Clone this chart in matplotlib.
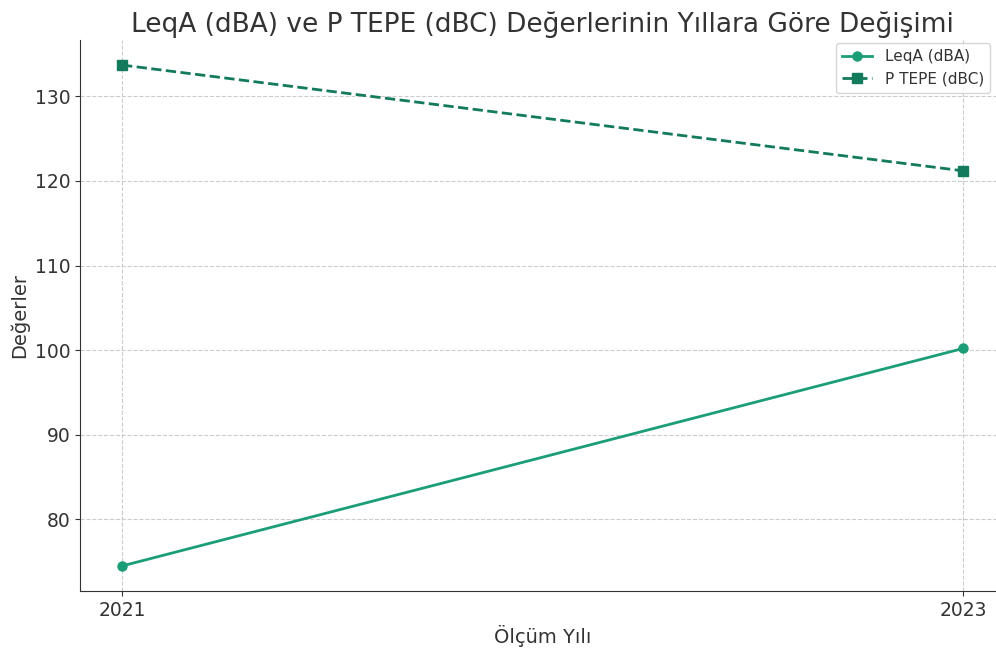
import matplotlib
matplotlib.use("Agg")
import matplotlib.pyplot as plt

years = [2021, 2023]
leqa = [74.5, 100.2]
p_tepe = [133.7, 121.2]

fig = plt.figure(figsize=(9.96, 6.48), dpi=100)
ax = fig.add_axes([80/996, 57/648, 925/996, 551/648])

ax.plot(years, leqa, color='#1b9e77', marker='o', linestyle='-', linewidth=2, markersize=6.5, label='LeqA (dBA)')
ax.plot(years, p_tepe, color='#137a5c', marker='s', linestyle='--', linewidth=2, markersize=6.5, label='P TEPE (dBC)')

ax.set_xticks(years)
ax.set_xticklabels([str(y) for y in years])
ax.tick_params(labelsize=13.5, colors='#333333')
ax.set_xlabel('Ölçüm Yılı', fontsize=14, color='#333333')
ax.set_ylabel('Değerler', fontsize=14, color='#333333')
ax.set_title('LeqA (dBA) ve P TEPE (dBC) Değerlerinin Yıllara Göre Değişimi', fontsize=19, color='#333333', pad=6)
ax.grid(True, linestyle='--', color='#cccccc', linewidth=0.8)
ax.spines['top'].set_visible(False)
ax.spines['right'].set_visible(False)
ax.spines['left'].set_color('#333333')
ax.spines['bottom'].set_color('#333333')
leg = ax.legend(loc='upper right', bbox_to_anchor=((993 - 80) / 925, 1.0), fontsize=11, borderaxespad=0.2)
for t in leg.get_texts():
    t.set_color('#333333')

fig.savefig('out.png', dpi=100)
